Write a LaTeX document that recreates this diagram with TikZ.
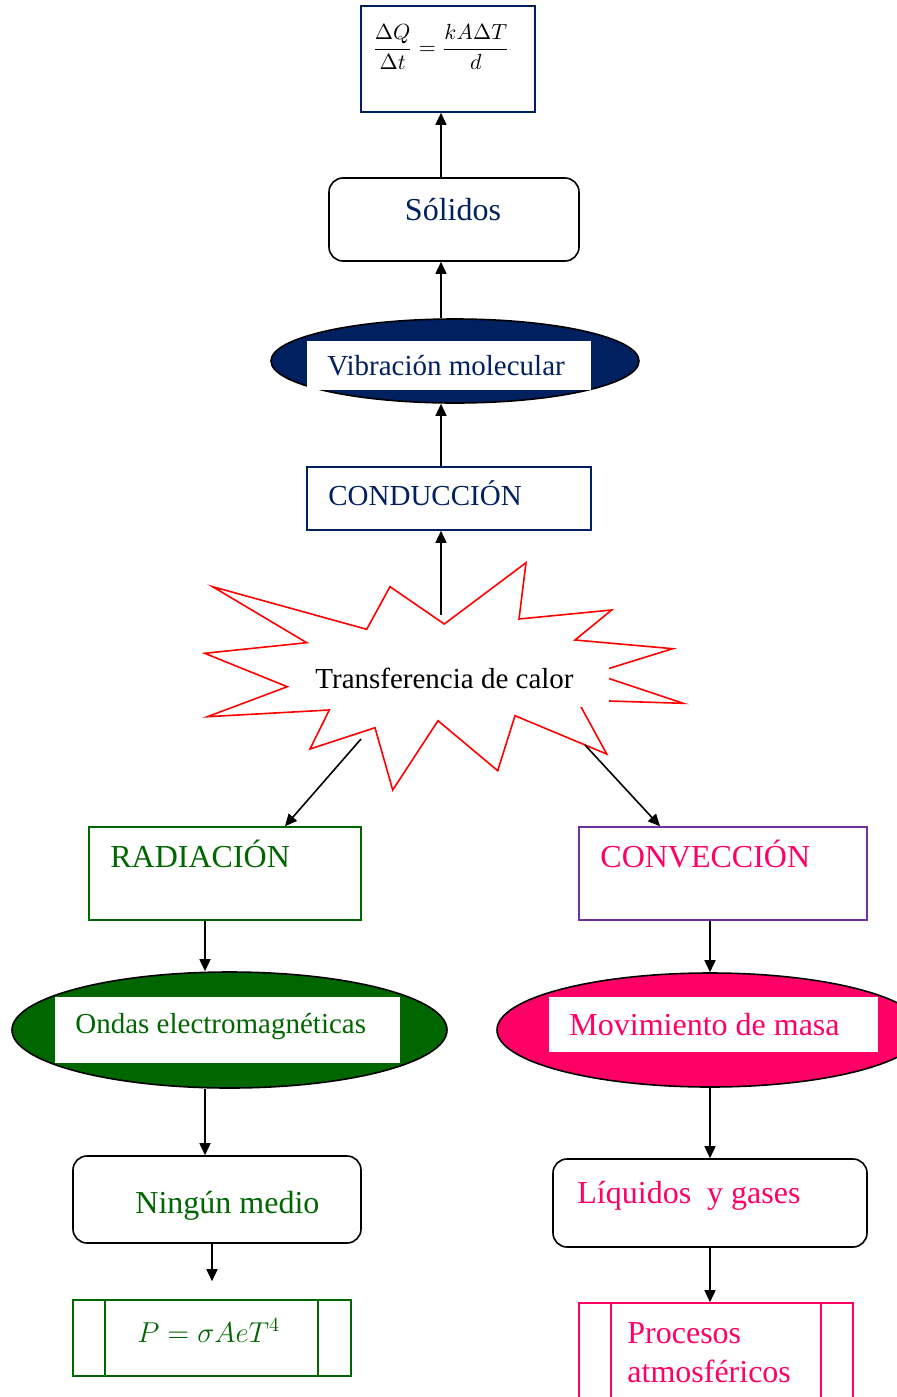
\documentclass[tikz,border=0pt]{standalone}
\usepackage{fontspec}
\setmainfont{Liberation Serif}
\usetikzlibrary{shapes.geometric,arrows.meta}
\definecolor{azul}{HTML}{002060}
\definecolor{verde}{HTML}{006600}
\definecolor{rosa}{HTML}{FF0066}
\definecolor{morado}{HTML}{7030A0}

\begin{document}
\begin{tikzpicture}[x=0.5pt, y=-0.5pt,
        font=\fontsize{16}{19.5}\selectfont,
        caja/.style={draw=#1, line width=0.8pt, inner sep=0pt},
        redonda/.style={draw=black, line width=0.8pt, rounded corners=7pt, inner sep=0pt},
        elipse/.style={ellipse, draw=black, line width=0.8pt, fill=#1, inner sep=0pt},
        fondo/.style={fill=white, inner sep=0pt},
        texto/.style={anchor=base west, inner sep=0pt},
        chico/.style={font=\fontsize{14.5}{17}\selectfont},
        flecha/.style={-{Triangle[length=6pt,width=5.5pt]}, line width=0.8pt}]
        \useasboundingbox (0,0) rectangle (897,1397);
        \clip (0,0) rectangle (897,1397);
        \coordinate (eje) at (441,0);

        % conduccion
        \node[caja=azul, minimum width=87pt, minimum height=53pt] (formula) at (448,59) {};
        \node[inner sep=0pt] (ecuacion) at (441,47) {\fontsize{10.5}{12}\selectfont $\displaystyle\frac{\Delta Q}{\Delta t}=\frac{kA\Delta T}{d}$};
        \node[redonda, minimum width=125pt, minimum height=41.5pt] (solidos) at (454,219.5) {};
        \node[anchor=base, inner sep=0pt, text=azul] (solidos-txt) at (453,220) {Sólidos};
        \node[elipse=azul, minimum width=184pt, minimum height=42pt] (vibracion) at (455,361) {};
        \node[fondo, minimum width=142pt, minimum height=24.5pt] (vibracion-fondo) at (449,365.5) {};
        \node[texto, chico, text=azul] (vibracion-txt) at (327,375) {Vibración molecular};
        \node[caja=azul, minimum width=142pt, minimum height=31.5pt] (conduccion) at (449,498.5) {};
        \node[texto, chico, text=azul] (conduccion-txt) at (328,505) {CONDUCCIÓN};

        % estrella
        \draw[red, line width=0.8pt] (444.3,624) -- (526,562.7) -- (519,619) -- (611.7,610)
            -- (575,640) -- (672.7,648.7) -- (593.3,673.3) -- (683.3,703.3) -- (577.3,700)
            -- (606.7,754) -- (515,715.7) -- (497.7,770.7) -- (438,720.7) -- (392.7,790)
            -- (375,727.7) -- (310,749) -- (329.3,710) -- (207.3,716.7) -- (287.3,686.7)
            -- (204.7,653.3) -- (306.7,642.7) -- (212.7,586.7) -- (366.7,629.3) -- (390,586.7) -- cycle;
        \fill[white] (295,665) rectangle (609,707);
        \node[texto, chico] (calor) at (315,688) {Transferencia de calor};
        \coordinate (calor-n) at (441,615);
        \coordinate (calor-so) at (361,739);
        \coordinate (calor-se) at (585,745);

        % radiacion
        \node[caja=verde, minimum width=136pt, minimum height=46.5pt] (radiacion) at (225,873.5) {};
        \node[texto, text=verde] (radiacion-txt) at (110,867) {RADIACIÓN};
        \node[elipse=verde, minimum width=217.5pt, minimum height=58pt] (ondas) at (229.5,1030) {};
        \node[fondo, minimum width=172.5pt, minimum height=33pt] (ondas-fondo) at (227.5,1030) {};
        \node[texto, chico, text=verde] (ondas-txt) at (75,1033) {Ondas electromagnéticas};
        \node[redonda, minimum width=144pt, minimum height=43.5pt] (ningun) at (217,1199.5) {};
        \node[texto, text=verde] (ningun-txt) at (135,1213) {Ningún medio};
        \node[caja=verde, minimum width=139pt, minimum height=38pt] (stefan) at (212,1338) {};
        \draw[verde, line width=0.9pt] ([xshift=16.5pt]stefan.north west) -- ([xshift=16.5pt]stefan.south west);
        \draw[verde, line width=0.9pt] ([xshift=-17pt]stefan.north east) -- ([xshift=-17pt]stefan.south east);
        \node[texto, chico, text=verde] (stefan-txt) at (137,1342) {$P=\sigma AeT^4$};

        % conveccion
        \node[caja=morado, minimum width=144pt, minimum height=46.5pt] (conveccion) at (723,873.5) {};
        \node[texto, text=rosa] (conveccion-txt) at (600,867) {CONVECCIÓN};
        \node[elipse=rosa, minimum width=213pt, minimum height=57pt] (masa) at (710,1030) {};
        \node[fondo, minimum width=164.5pt, minimum height=27.5pt] (masa-fondo) at (713.5,1024.5) {};
        \node[texto, text=rosa] (masa-txt) at (569,1035) {Movimiento de masa};
        \node[redonda, minimum width=157pt, minimum height=44pt] (liquidos) at (710,1203) {};
        \node[texto, text=rosa] (liquidos-txt) at (577,1203) {Líquidos\ \ y gases};
        \node[caja=rosa, minimum width=137pt, minimum height=58.5pt] (procesos) at (716,1361.5) {};
        \draw[rosa, line width=0.9pt] ([xshift=16.5pt]procesos.north west) -- ([xshift=16.5pt]procesos.south west);
        \draw[rosa, line width=0.9pt] ([xshift=-16.5pt]procesos.north east) -- ([xshift=-16.5pt]procesos.south east);
        \node[texto, text=rosa, align=left] (procesos-txt) at (627,1382) {Procesos\\atmosféricos};

        % flechas
        \draw[flecha] (solidos.north -| eje) -- (formula.south -| eje);
        \draw[flecha] (vibracion.north -| eje) -- (solidos.south -| eje);
        \draw[flecha] (conduccion.north -| eje) -- (vibracion.south -| eje);
        \draw[flecha] (calor-n) -- (conduccion.south -| eje);
        \draw[flecha] (calor-so) -- ([xshift=30pt]radiacion.north);
        \draw[flecha] (calor-se) -- ([xshift=-31.5pt]conveccion.north);
        \draw[flecha] (radiacion.south -| 205,0) -- (ondas.north -| 205,0);
        \draw[flecha] (ondas.south -| 205,0) -- (ningun.north -| 205,0);
        \draw[flecha] (ningun.south -| stefan.north) -- ([yshift=9pt]stefan.north);
        \draw[flecha] (conveccion.south -| masa.north) -- (masa.north);
        \draw[flecha] (masa.south) -- (liquidos.north);
        \draw[flecha] (liquidos.south) -- (liquidos.south |- procesos.north);
    \end{tikzpicture}
\end{document}
